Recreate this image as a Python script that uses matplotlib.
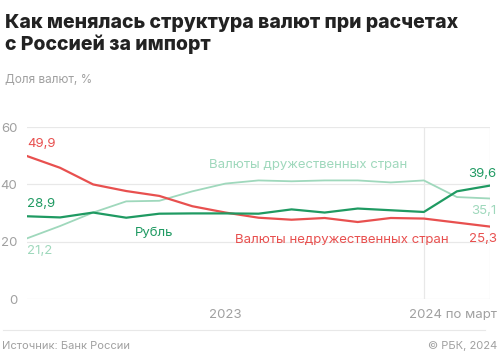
import numpy as np
import matplotlib.pyplot as plt

plt.rcParams['font.family'] = ['Inter', 'DejaVu Sans']

# monthly points, 2023 through March 2024
months = np.arange(15)
unfriendly = [49.9, 45.8, 40.0, 37.7, 36.0, 32.4, 30.2, 28.4, 27.7, 28.3, 26.9, 28.3, 28.1, 26.7, 25.3]
ruble = [28.9, 28.5, 30.2, 28.4, 29.8, 29.9, 29.9, 29.8, 31.3, 30.2, 31.6, 31.0, 30.4, 37.6, 39.6]
friendly = [21.2, 25.5, 30.2, 34.1, 34.3, 37.6, 40.3, 41.4, 41.1, 41.4, 41.4, 40.7, 41.4, 35.6, 35.1]
yticks = [0, 20, 40, 60]

red = '#e8504f'
green = '#1f9a62'
light = '#9fd8bc'
gray = '#a0a0a0'

fig = plt.figure(figsize=(5, 3.6), dpi=100)
ax = fig.add_axes([0.054, 0.169, 0.926, 0.478])

for y in yticks:
    ax.axhline(y, color='#e8e8e8', lw=0.9, zorder=0)
ax.axvline(12, color='#e8e8e8', lw=0.9, zorder=0)
ax.axvline(14, color='#e8e8e8', lw=0.9, zorder=0)

ax.plot(months, friendly, color=light, lw=1.3)
ax.plot(months, unfriendly, color=red, lw=1.6)
ax.plot(months, ruble, color=green, lw=1.6)

ax.set_xlim(0, 14)
ax.set_ylim(0, 60)
for s in ax.spines.values():
    s.set_visible(False)
ax.set_xticks([])
ax.set_yticks(yticks)
ax.set_yticklabels([str(t) for t in yticks], color=gray, fontsize=9.5)
ax.tick_params(axis='y', length=0, pad=7)

# value labels
ax.text(0, unfriendly[0] + 2.2, '49,9', color=red, fontsize=9.5, ha='left', va='bottom')
ax.text(0, ruble[0] + 2.2, '28,9', color=green, fontsize=9.5, ha='left', va='bottom')
ax.text(0, friendly[0] - 2.2, '21,2', color=light, fontsize=9.5, ha='left', va='top')
ax.text(14.2, ruble[-1] + 2.0, '39,6', color=green, fontsize=9.5, ha='right', va='bottom')
ax.text(14.2, friendly[-1] - 2.2, '35,1', color=light, fontsize=9.5, ha='right', va='top')
ax.text(14.2, unfriendly[-1] - 2.2, '25,3', color=red, fontsize=9.5, ha='right', va='top')

# series labels
ax.text(5.5, 46.8, 'Валюты дружественных стран', color=light, fontsize=9.5, va='center')
ax.text(3.25, 23.0, 'Рубль', color=green, fontsize=9.5, va='center')
ax.text(6.3, 20.5, 'Валюты недружественных стран', color=red, fontsize=9.5, va='center')

# x labels
ax.text(6, -3.5, '2023', color=gray, fontsize=9.5, ha='center', va='top')
ax.text(14.2, -3.5, '2024 по март', color=gray, fontsize=9.5, ha='right', va='top')

fig.text(0.01, 0.962, 'Как менялась структура валют при расчетах\nс Россией за импорт',
         fontsize=14, fontweight='heavy', color='#222222', va='top', linespacing=1.15)
fig.text(0.01, 0.777, 'Доля валют, %', fontsize=8.5, color=gray, va='center')

fig.add_artist(plt.Line2D([0.005, 0.97], [0.083, 0.083], color='#e8e8e8', lw=0.8))
fig.text(0.005, 0.038, 'Источник: Банк России', fontsize=8, color=gray, va='center')
fig.text(0.994, 0.038, '© РБК, 2024', fontsize=8, color=gray, va='center', ha='right')

fig.savefig('out.png', dpi=100)
